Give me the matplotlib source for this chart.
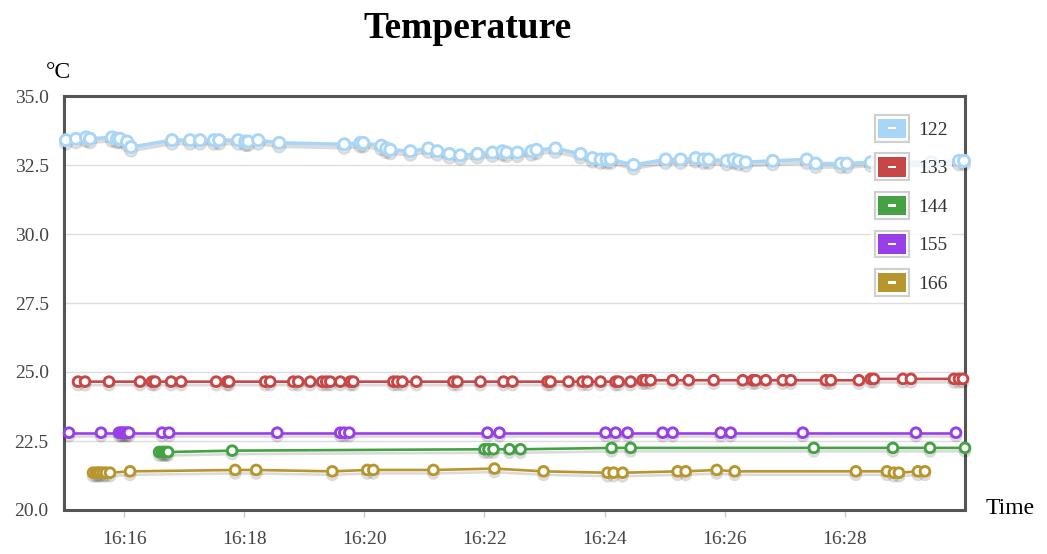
#!/usr/bin/env python3
import datetime as dt

import matplotlib
matplotlib.use('Agg')

import matplotlib.pyplot as plt
import matplotlib.dates as mdates
import matplotlib.patheffects as pe
from matplotlib.lines import Line2D
from matplotlib.patches import Rectangle
from matplotlib.legend_handler import HandlerBase

# seconds after 16:15:00 and readings for each sensor
t122 = [2, 12, 22, 26, 48, 53, 56, 63, 67, 108, 126, 136, 150, 155, 174, 181, 184, 194, 215, 280,
        296, 299, 317, 322, 326, 346, 364, 373, 385, 396, 413, 428, 438, 442, 453, 467, 472, 491, 516, 528,
        536, 542, 546, 569, 601, 616, 631, 639, 644, 662, 669, 674, 681, 708, 742, 751, 776, 782, 806, 836,
        866, 894, 899]
v122 = [33.4, 33.45, 33.5, 33.45, 33.5, 33.45, 33.45, 33.35, 33.15, 33.4, 33.4, 33.4, 33.4, 33.4, 33.4, 33.35, 33.35, 33.4, 33.3, 33.25,
        33.3, 33.3, 33.2, 33.1, 33.05, 33.0, 33.1, 33.0, 32.9, 32.85, 32.9, 32.95, 33.0, 32.95, 32.95, 33.0, 33.05, 33.1, 32.9, 32.75,
        32.7, 32.7, 32.7, 32.5, 32.7, 32.7, 32.75, 32.7, 32.7, 32.65, 32.7, 32.65, 32.6, 32.65, 32.7, 32.55, 32.55, 32.55, 32.6, 32.6,
        32.6, 32.65, 32.65]

t133 = [14, 21, 45, 76, 88, 91, 107, 117, 152, 163, 165, 201, 206, 229, 234, 246, 258, 262, 266, 276,
        286, 289, 329, 333, 338, 352, 389, 393, 416, 439, 448, 483, 486, 504, 518, 523, 536, 551, 554, 566,
        578, 581, 586, 608, 624, 649, 678, 688, 691, 701, 718, 726, 761, 766, 794, 806, 809, 838, 846, 889,
        894, 898]
v133 = [24.65, 24.65, 24.65, 24.65, 24.65, 24.65, 24.65, 24.65, 24.65, 24.65,
        24.65, 24.65, 24.65, 24.65, 24.65, 24.65, 24.65, 24.65, 24.65, 24.65,
        24.65, 24.65, 24.65, 24.65, 24.65, 24.65, 24.65, 24.65, 24.65, 24.65,
        24.65, 24.65, 24.65, 24.65, 24.65, 24.65, 24.65, 24.65, 24.65, 24.65,
        24.7, 24.7, 24.7, 24.7, 24.7, 24.7, 24.7, 24.7, 24.7, 24.7,
        24.7, 24.7, 24.7, 24.7, 24.7, 24.75, 24.75, 24.75, 24.75, 24.75,
        24.75, 24.75]

t144 = [95, 98, 100, 102, 104, 168, 420, 424, 429, 445, 456, 547, 566, 749, 828, 865, 900]
v144 = [22.1, 22.1, 22.1, 22.1, 22.1, 22.15, 22.2, 22.2, 22.2, 22.2, 22.2, 22.25, 22.25, 22.25, 22.25, 22.25, 22.25]

t155 = [5, 37, 55, 57, 59, 61, 63, 65, 98, 105, 213, 276, 280, 285, 423, 435, 541, 551, 563, 598,
        608, 656, 666, 738, 851, 891]
v155 = [22.8, 22.8, 22.8, 22.8, 22.8, 22.8, 22.8, 22.8, 22.8, 22.8, 22.8, 22.8, 22.8, 22.8, 22.8, 22.8,
        22.8, 22.8, 22.8, 22.8, 22.8, 22.8, 22.8, 22.8, 22.8, 22.8]

t166 = [29, 32, 34, 36, 39, 42, 46, 66, 171, 192, 268, 303, 309, 369, 430, 479, 543, 549, 558, 613,
        621, 652, 670, 791, 822, 829, 834, 853, 860]
v166 = [21.35, 21.35, 21.35, 21.35, 21.35, 21.35, 21.35, 21.4, 21.45, 21.45, 21.4, 21.45, 21.45, 21.45, 21.5,
        21.4, 21.35, 21.35, 21.35, 21.4, 21.4, 21.45, 21.4, 21.4, 21.4, 21.35, 21.35, 21.4, 21.4]

names = ['122', '133', '144', '155', '166']
colors = ['#a9d5f7', '#c94646', '#44a244', '#9a3ee8', '#b8962e']
series = [(t122, v122), (t133, v133), (t144, v144), (t155, v155), (t166, v166)]

start = dt.datetime(2020, 1, 1, 16, 15, 0)
serif = 'Liberation Serif'


class BoxHandler(HandlerBase):
    # grey-framed square with colour block and a white dash
    def create_artists(self, legend, orig_handle, xdescent, ydescent,
                       width, height, fontsize, trans):
        c = orig_handle.get_color()
        x0, y0 = -xdescent, -ydescent
        outer = Rectangle((x0, y0), width, height, fc='white', ec='#cfcfcf', lw=1.5, transform=trans)
        inner = Rectangle((x0 + 2.2, y0 + 2.7), width - 4.4, height - 5.4, fc=c, ec='none', transform=trans)
        dash = Rectangle((x0 + width / 2 - 2.6, y0 + height / 2 - 0.8), 5.2, 1.6, fc='white', ec='none',
                         transform=trans)
        return [outer, inner, dash]


fig = plt.figure(figsize=(10.47, 5.54), dpi=100)
ax = fig.add_axes([64 / 1047, 1 - 510 / 554, 901 / 1047, 414 / 554])

handles = []
for (t, v), name, c in zip(series, names, colors):
    times = [start + dt.timedelta(seconds=s) for s in t]
    big = name == '122'
    line, = ax.plot(times, v, color=c, lw=2.6 if big else 1.9, marker='o',
                    ms=8 if big else 7, mfc='white', mec=c, mew=2.1,
                    clip_on=False, zorder=3,
                    path_effects=[pe.SimpleLineShadow(offset=(0, -2.5), shadow_color='black', alpha=0.14),
                                  pe.Normal()])
    handles.append(Line2D([], [], color=c))

ax.set_xlim(start, start + dt.timedelta(minutes=15))
ax.set_ylim(20, 35)
ax.set_yticks([20, 22.5, 25, 27.5, 30, 32.5, 35])
ax.set_yticklabels(['20.0', '22.5', '25.0', '27.5', '30.0', '32.5', '35.0'])
ax.set_xticks([start + dt.timedelta(minutes=m) for m in range(1, 15, 2)])
ax.xaxis.set_major_formatter(mdates.DateFormatter('%H:%M'))

ax.grid(axis='y', color='#dddddd', lw=1)
ax.set_axisbelow(True)
for sp in ax.spines.values():
    sp.set_color('#555555')
    sp.set_linewidth(2.2)

ax.tick_params(axis='y', length=0, pad=11, labelsize=14, labelcolor='#444444')
ax.tick_params(axis='x', length=5, width=1, color='#cccccc', pad=10, labelsize=14, labelcolor='#444444')
for lbl in ax.get_xticklabels() + ax.get_yticklabels():
    lbl.set_family(serif)

fig.text(468 / 1047, 1 - 28 / 554, 'Temperature', ha='center', va='center',
         fontsize=27, fontweight='bold', family=serif)
fig.text(46 / 1047, 1 - 72 / 554, '°C', ha='left', va='center', fontsize=17, family=serif)
fig.text(986 / 1047, 1 - 508 / 554, 'Time', ha='left', va='center', fontsize=17, family=serif)

leg = ax.legend(handles, names, loc='upper left', bbox_to_anchor=(871 / 1047, 1 - 111 / 554),
                bbox_transform=fig.transFigure, handler_map={Line2D: BoxHandler()},
                prop={'family': serif, 'size': 14}, handlelength=1.75, handleheight=1.75,
                handletextpad=0.5, labelspacing=0.6, borderpad=0.2, borderaxespad=0,
                frameon=True, framealpha=0.8, edgecolor='none', facecolor='white', fancybox=False)
for txt in leg.get_texts():
    txt.set_color('#333333')
leg.set_zorder(10)

plt.savefig('out.png', dpi=100)
